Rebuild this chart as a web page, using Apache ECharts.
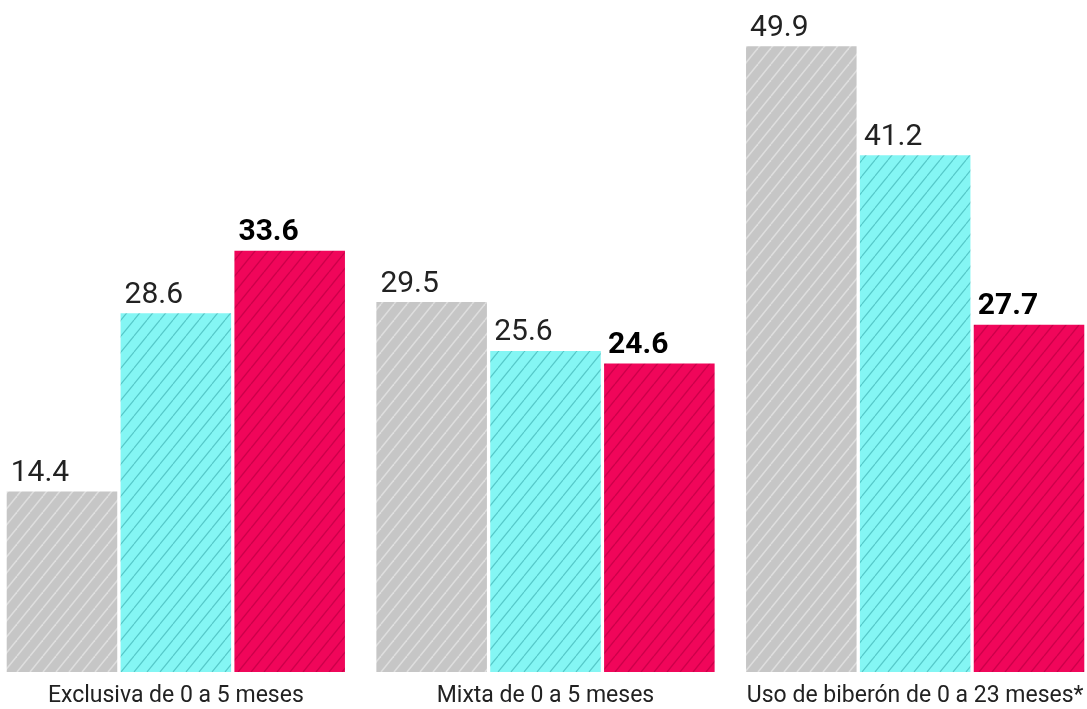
<!DOCTYPE html>
<html><head><meta charset="utf-8">
<script src="https://cdn.jsdelivr.net/npm/echarts@6/dist/echarts.min.js"></script>
<style>html,body{margin:0;padding:0;background:#fff;overflow:hidden}#c{width:1109px;height:709px;margin-left:-9px}</style>
</head><body><div id="c"></div>
<script>
const categories = ['Exclusiva de 0 a 5 meses', 'Mixta de 0 a 5 meses', 'Uso de biberón de 0 a 23 meses*'];
const seriesA = [14.4, 29.5, 49.9];
const seriesB = [28.6, 25.6, 41.2];
const seriesC = [33.6, 24.6, 27.7];

function hatch(bg, line, lw) {
  const w = 13, h = 16;
  const c = document.createElement('canvas');
  c.width = w; c.height = h;
  const g = c.getContext('2d');
  g.fillStyle = bg; g.fillRect(0, 0, w, h);
  g.strokeStyle = line; g.lineWidth = lw;
  for (const dx of [-w, 0, w]) {
    g.beginPath(); g.moveTo(dx, h); g.lineTo(dx + w, 0); g.stroke();
  }
  return { image: c, repeat: 'repeat' };
}
const font = "Roboto, sans-serif";
function mk(data, bg, line, lw, bold) {
  return {
    type: 'bar', data: data, barGap: '3%', barCategoryGap: '8.5%',
    itemStyle: { color: hatch(bg, line, lw) },
    label: { show: true, position: [4, -3], align: 'left', verticalAlign: 'bottom',
      color: bold ? '#000' : '#222', fontFamily: font, fontSize: 30,
      fontWeight: bold ? 'bold' : 'normal' }
  };
}
const chart = echarts.init(document.getElementById('c'));
chart.setOption({
  animation: false,
  grid: { left: 0, right: 0, top: 45, bottom: 37 },
  xAxis: { type: 'category', data: categories, axisLine: { show: false }, axisTick: { show: false },
    axisLabel: { interval: 0, color: '#222', fontFamily: font, fontSize: 23, margin: 13 } },
  yAxis: { type: 'value', min: 0, max: 50, show: false },
  series: [
    mk(seriesA, '#c6c6c6', '#dedede', 1.6, false),
    mk(seriesB, '#84f6f4', '#56c8c8', 1.2, false),
    mk(seriesC, '#f0065a', '#cc004a', 1.4, true)
  ]
});
</script></body></html>
